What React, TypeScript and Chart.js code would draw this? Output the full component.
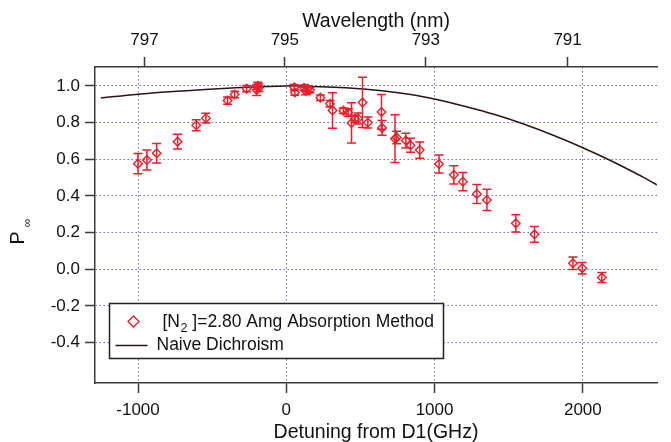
import React, { useEffect, useRef } from 'react';
import { Chart, registerables } from 'chart.js';

Chart.register(...registerables);

// Measured points: detuning (GHz), P∞, error
const detuning = [
  -1000, -940, -874, -733, -607, -542, -396, -348, -267, -200, -192, -185,
  54, 58, 120, 130, 145, 160, 230, 295, 312, 385, 418, 440, 463, 485, 514, 550,
  642, 646, 733, 745, 806, 838, 900, 1030, 1130, 1191, 1285, 1353, 1548, 1674,
  1933, 1996, 2128,
];
const polarization = [
  0.576, 0.596, 0.633, 0.696, 0.785, 0.824, 0.92, 0.953, 0.985, 0.978, 1.0, 0.99,
  0.993, 0.964, 0.99, 0.972, 0.985, 0.978, 0.936, 0.903, 0.866, 0.865, 0.855, 0.798, 0.82, 0.822, 0.91, 0.8,
  0.858, 0.771, 0.712, 0.718, 0.702, 0.676, 0.65, 0.574, 0.515, 0.478, 0.411, 0.378, 0.251, 0.191,
  0.033, 0.006, -0.045,
];
const errors = [
  0.055, 0.054, 0.053, 0.04, 0.03, 0.027, 0.02, 0.018, 0.017, 0.03, 0.02, 0.02,
  0.015, 0.015, 0.015, 0.02, 0.015, 0.015, 0.015, 0.018, 0.097, 0.015, 0.02, 0.11, 0.02, 0.03, 0.137, 0.03,
  0.095, 0.04, 0.13, 0.034, 0.04, 0.038, 0.044, 0.049, 0.05, 0.05, 0.052, 0.058, 0.047, 0.043,
  0.034, 0.031, 0.027,
];

// Naive dichroism curve
const curveDetuning = [-1250, -1000, -650, -265, 0, 180, 400, 630, 850, 1000, 1200, 1400, 1600, 1800, 2000, 2200, 2400, 2500];
const curveP = [0.934, 0.955, 0.975, 0.993, 1.0, 0.997, 0.99, 0.975, 0.952, 0.928, 0.889, 0.845, 0.792, 0.731, 0.663, 0.588, 0.505, 0.46];

const xTicks = [-1000, 0, 1000, 2000];
const yTicks = [-0.4, -0.2, 0, 0.2, 0.4, 0.6, 0.8, 1.0];
const wavelengthTicks = [797, 795, 793, 791];

const seriesLabel = '[N2 ]=2.80 Amg Absorption Method';
const curveLabel = 'Naive Dichroism';

const FONT = '"Liberation Sans", Arial, Helvetica, sans-serif';
const RED = 'rgb(232, 30, 42)';
const CURVE = '#2a1414';
const GRID = 'rgba(70, 70, 185, 0.8)';
const AXIS = '#3a3a3a';

const C_NM_THZ = 299792.458;
const D1_NM = 794.979;
const toDetuning = (nm: number) => (C_NM_THZ / nm - C_NM_THZ / D1_NM) * 1000;

const errorBarPlugin = {
  id: 'errorBars',
  afterDatasetsDraw(chart: any) {
    const { ctx } = chart;
    const x = chart.scales.x;
    const y = chart.scales.y;
    ctx.save();
    ctx.strokeStyle = RED;
    ctx.lineWidth = 1.5;
    detuning.forEach((d, i) => {
      const px = x.getPixelForValue(d);
      const top = y.getPixelForValue(polarization[i] + errors[i]);
      const bot = y.getPixelForValue(polarization[i] - errors[i]);
      ctx.beginPath();
      ctx.moveTo(px, top);
      ctx.lineTo(px, bot);
      ctx.moveTo(px - 4.5, top);
      ctx.lineTo(px + 4.5, top);
      ctx.moveTo(px - 4.5, bot);
      ctx.lineTo(px + 4.5, bot);
      ctx.stroke();
    });
    ctx.restore();
  },
};

const decorPlugin = {
  id: 'decor',
  afterDraw(chart: any) {
    const { ctx, chartArea } = chart;
    ctx.save();
    // Y axis title P∞
    ctx.fillStyle = '#111';
    ctx.translate(19, 238);
    ctx.rotate(-Math.PI / 2);
    ctx.textAlign = 'center';
    ctx.textBaseline = 'middle';
    ctx.font = `19.5px ${FONT}`;
    ctx.fillText('P', 0, 0);
    ctx.font = `12px ${FONT}`;
    ctx.fillText('∞', 15, 9);
    ctx.restore();

    // Legend box
    const bx = chartArea.left + 14.5;
    const by = chartArea.bottom - 79.5;
    const bw = 334;
    const bh = 55;
    ctx.save();
    ctx.fillStyle = '#fff';
    ctx.fillRect(bx, by, bw, bh);
    ctx.strokeStyle = '#222';
    ctx.lineWidth = 1.5;
    ctx.strokeRect(bx, by, bw, bh);

    // diamond
    const dx = bx + 24;
    const dy = by + 18;
    const r = 5.5;
    ctx.strokeStyle = RED;
    ctx.lineWidth = 1.3;
    ctx.beginPath();
    ctx.moveTo(dx - r, dy);
    ctx.lineTo(dx, dy - r);
    ctx.lineTo(dx + r, dy);
    ctx.lineTo(dx, dy + r);
    ctx.closePath();
    ctx.stroke();

    ctx.fillStyle = '#111';
    ctx.textBaseline = 'middle';
    ctx.textAlign = 'left';
    ctx.font = `17.5px ${FONT}`;
    const parts = seriesLabel.split('2 ]');
    let tx = bx + 53;
    ctx.fillText(parts[0], tx, dy + 1);
    tx += ctx.measureText(parts[0]).width + 0.5;
    ctx.font = `12.5px ${FONT}`;
    ctx.fillText('2', tx, dy + 7);
    tx += ctx.measureText('2').width;
    ctx.font = `17.5px ${FONT}`;
    ctx.fillText(' ]' + parts[1], tx, dy + 1);

    // line sample
    const ly = by + 42;
    ctx.strokeStyle = CURVE;
    ctx.lineWidth = 1.5;
    ctx.beginPath();
    ctx.moveTo(bx + 6, ly);
    ctx.lineTo(bx + 38, ly);
    ctx.stroke();
    ctx.fillText(curveLabel, bx + 47, ly);
    ctx.restore();
  },
};

export default function App() {
  const canvasRef = useRef<HTMLCanvasElement | null>(null);

  useEffect(() => {
    document.body.style.margin = '0';
    const canvas = canvasRef.current;
    if (!canvas) return;

    const tickFont = { family: FONT, size: 17 };
    const titleFont = { family: FONT, size: 19.5, lineHeight: 1 };

    const chart = new Chart(canvas, {
      type: 'scatter',
      data: {
        datasets: [
          {
            type: 'scatter',
            label: seriesLabel,
            data: detuning.map((d, i) => ({ x: d, y: polarization[i] })),
            pointStyle: 'rectRot',
            pointRadius: 4.3,
            pointBorderWidth: 1.4,
            borderColor: RED,
            backgroundColor: 'rgba(0,0,0,0)',
            order: 0,
          },
          {
            type: 'line',
            label: curveLabel,
            data: curveDetuning.map((d, i) => ({ x: d, y: curveP[i] })),
            borderColor: CURVE,
            borderWidth: 1.5,
            pointRadius: 0,
            tension: 0.4,
            fill: false,
            order: 1,
          },
        ],
      } as any,
      options: {
        responsive: false,
        animation: false,
        devicePixelRatio: 1,
        layout: { padding: { left: 0, right: 14, top: 0, bottom: 0 } },
        plugins: {
          legend: { display: false },
          tooltip: { enabled: false },
        },
        scales: {
          x: {
            type: 'linear',
            position: 'bottom',
            min: -1290,
            max: 2500,
            afterBuildTicks: (axis: any) => {
              axis.ticks = xTicks.map((v) => ({ value: v }));
            },
            afterFit: (axis: any) => {
              axis.height = 59;
            },
            ticks: {
              font: tickFont,
              color: '#111',
              padding: 7,
              maxRotation: 0,
              autoSkip: false,
              callback: (v: any) => String(v),
            },
            grid: {
              color: GRID,
              lineWidth: 1,
              tickColor: AXIS,
              tickLength: 10,
              tickWidth: 1.5,
              tickBorderDash: [],
            },
            border: { display: true, color: AXIS, width: 1.5, dash: [1.5, 2.5] },
            title: {
              display: true,
              text: 'Detuning from D1(GHz)',
              font: titleFont,
              color: '#111',
              padding: { top: 0, bottom: 0 },
            },
          },
          x2: {
            type: 'linear',
            position: 'top',
            min: -1290,
            max: 2500,
            afterBuildTicks: (axis: any) => {
              axis.ticks = wavelengthTicks.map((w) => ({ value: toDetuning(w) }));
            },
            afterFit: (axis: any) => {
              axis.height = 67;
            },
            ticks: {
              font: tickFont,
              color: '#111',
              padding: 6,
              maxRotation: 0,
              autoSkip: false,
              callback: (_v: any, i: number) => String(wavelengthTicks[i]),
            },
            grid: {
              drawOnChartArea: false,
              tickColor: AXIS,
              tickLength: 10,
              tickWidth: 1.5,
              tickBorderDash: [],
            },
            border: { display: true, color: AXIS, width: 1.5 },
            title: {
              display: true,
              text: 'Wavelength (nm)',
              font: titleFont,
              color: '#111',
              padding: { top: 12, bottom: 0 },
            },
          },
          y: {
            type: 'linear',
            position: 'left',
            min: -0.62,
            max: 1.103,
            afterBuildTicks: (axis: any) => {
              axis.ticks = yTicks.map((v) => ({ value: v }));
            },
            afterFit: (axis: any) => {
              axis.width = 95;
            },
            ticks: {
              font: tickFont,
              color: '#111',
              padding: 5,
              autoSkip: false,
              callback: (v: any) => Number(v).toFixed(1),
            },
            grid: {
              color: GRID,
              lineWidth: 1,
              tickColor: AXIS,
              tickLength: 10,
              tickWidth: 1.5,
              tickBorderDash: [],
            },
            border: { display: true, color: AXIS, width: 1.5, dash: [1.5, 2.5] },
          },
        },
      } as any,
      plugins: [errorBarPlugin, decorPlugin],
    });

    return () => chart.destroy();
  }, []);

  return (
    <div style={{ width: 671, height: 442, background: '#fff' }}>
      <canvas ref={canvasRef} width={671} height={442} style={{ display: 'block' }} />
    </div>
  );
}
